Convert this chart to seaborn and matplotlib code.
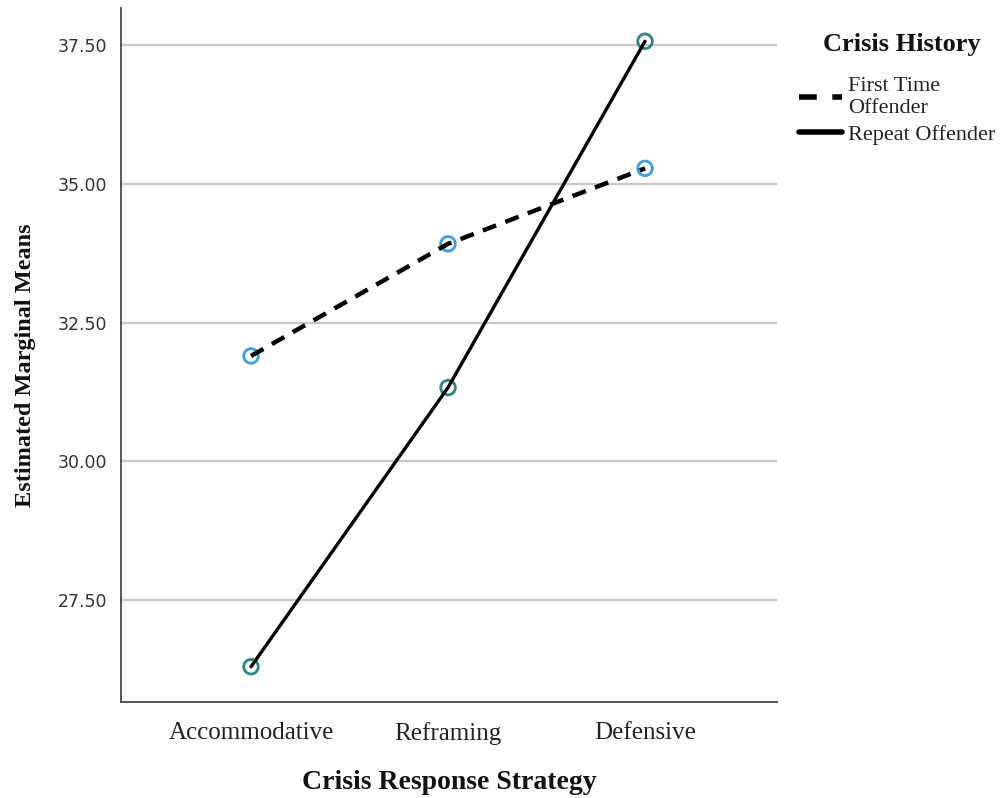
import matplotlib
matplotlib.use("Agg")
import matplotlib.pyplot as plt
import seaborn as sns
import pandas as pd
from matplotlib.lines import Line2D

strategies = ["Accommodative", "Reframing", "Defensive"]
groups = ["First Time\nOffender", "Repeat Offender"]
legend_title = "Crisis History"
first_time = [31.90, 33.92, 35.28]
repeat = [26.30, 31.33, 37.57]
y_ticks = [27.5, 30.0, 32.5, 35.0, 37.5]

df = pd.DataFrame({
    "strategy": strategies * 2,
    "x": list(range(len(strategies))) * 2,
    "group": [groups[0]] * 3 + [groups[1]] * 3,
    "mean": first_time + repeat,
})

sns.set_style("white")
fig = plt.figure(figsize=(10, 7.98), dpi=100)
ax = fig.add_axes([0.121, 0.12, 0.656, 0.87])

marker_colors = {groups[0]: "#3d9be9", groups[1]: "#2f8582"}
sns.scatterplot(data=df, x="x", y="mean", hue="group", palette=marker_colors,
                s=110, marker="o", linewidth=2.0,
                legend=False, ax=ax, zorder=3)
for c in ax.collections:
    c.set_facecolor("none")
    c.set_edgecolor([marker_colors[g] for g in df["group"]])

sns.lineplot(data=df, x="x", y="mean", style="group", size="group",
             sizes={groups[0]: 3.2, groups[1]: 2.4}, color="black",
             dashes={groups[0]: (3.2, 2.2), groups[1]: ""},
             legend=False, ax=ax, zorder=4)

ax.set_xlim(-0.66, 2.67)
ax.set_ylim(25.66, 38.17)
ax.set_xticks(range(len(strategies)))
ax.set_xticklabels(strategies, fontfamily="Liberation Serif", fontsize=18,
                   color="#222222")
ax.set_yticks(y_ticks)
ax.set_yticklabels([f"{v:.2f}" for v in y_ticks], fontfamily="DejaVu Sans",
                   fontsize=12.5, color="#333333")
ax.tick_params(axis="both", length=0, pad=10)
ax.tick_params(axis="x", pad=14)
ax.yaxis.grid(True, color="#c8c8c8", linewidth=1.6)
ax.xaxis.grid(False)
for s in ["top", "right"]:
    ax.spines[s].set_visible(False)
for s in ["left", "bottom"]:
    ax.spines[s].set_color("#555555")
    ax.spines[s].set_linewidth(1.4)

ax.set_xlabel("Crisis Response Strategy", fontfamily="Liberation Serif",
              fontweight="bold", fontsize=20, color="#111111")
ax.xaxis.set_label_coords(0.5, -0.098)
ax.set_ylabel("Estimated Marginal Means", fontfamily="Liberation Serif",
              fontweight="bold", fontsize=17.5, color="#111111")
ax.yaxis.set_label_coords(-0.129, 0.485)

handles = [Line2D([], [], color="black", linewidth=4, linestyle=(0, (3.2, 2.8))),
           Line2D([], [], color="black", linewidth=4)]
fig.text(0.902, 1 - 44 / 798, legend_title, ha="center", va="center",
         fontfamily="Liberation Serif", fontweight="bold", fontsize=19,
         color="#111111")
leg = fig.legend(handles, groups,
                 loc="upper left", bbox_to_anchor=(0.79, 1 - 68 / 798),
                 frameon=False, prop={"family": "Liberation Serif", "size": 16},
                 handlelength=1.95, handletextpad=0.25, labelspacing=0.3,
                 borderaxespad=0)
for t in leg.get_texts():
    t.set_color("#222222")

fig.savefig("out.png", dpi=100)
